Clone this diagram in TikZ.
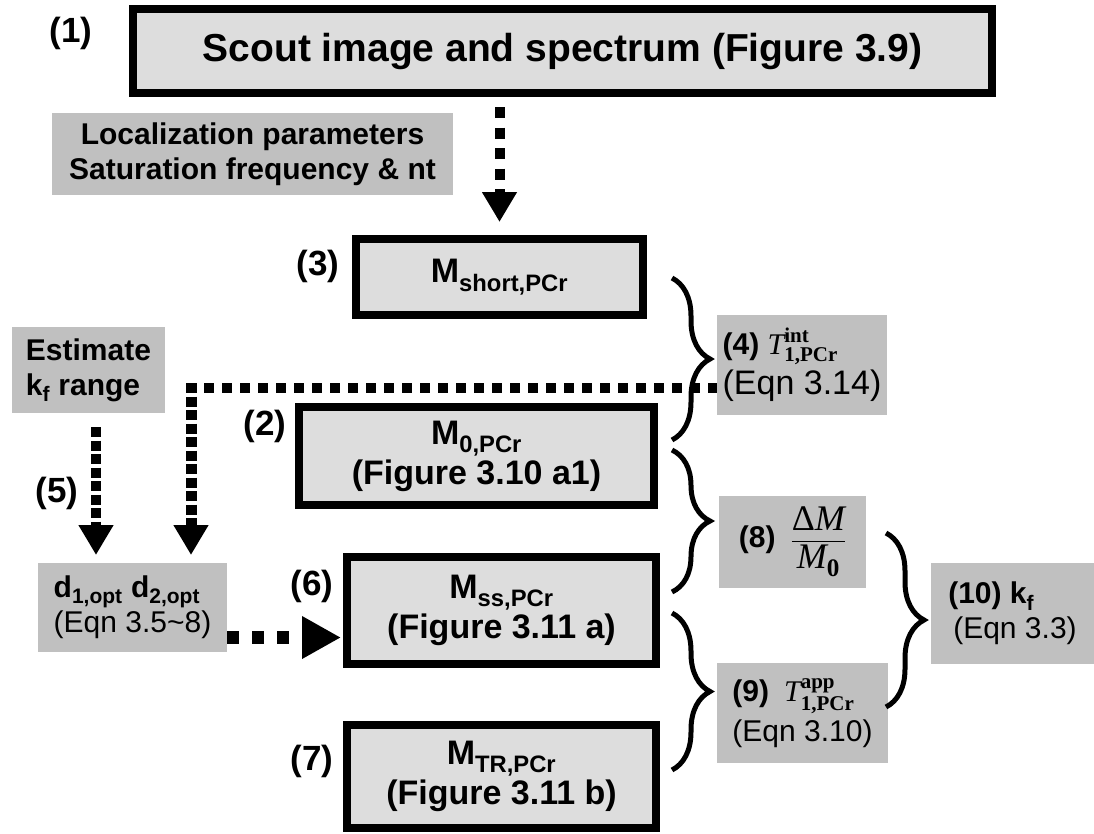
\documentclass[tikz,border=0pt]{standalone}
\usepackage{amsmath}
\usepackage{fontspec}
\setmainfont{Liberation Sans}
\newfontfamily\tms{Liberation Serif}
\usetikzlibrary{arrows.meta,decorations.pathreplacing}
\definecolor{BoxFill}{HTML}{DDDDDD}
\definecolor{TagFill}{HTML}{C0C0C0}
\newcommand{\lowtxt}[1]{$_{\text{#1}}$}
\newcommand{\tvar}[2]{$\text{\tms\mdseries\itshape T}^{\text{\tms\bfseries #1}}_{\text{\tms\bfseries #2}}$}

\begin{document}
\begin{tikzpicture}[x=1pt,y=-1pt,
  mbox/.style={draw,line width=8pt,fill=BoxFill,inner sep=0pt,outer sep=0pt,align=center,font=\fontsize{34}{40}\selectfont\bfseries},
  tag/.style={fill=TagFill,inner sep=0pt,outer sep=0pt,font=\fontsize{30}{35}\selectfont\bfseries},
  num/.style={inner sep=0pt,font=\fontsize{35}{37}\selectfont\bfseries},
  dotarr/.style={line width=10pt,dash pattern=on 10pt off 3.5pt,-{Triangle[length=30pt,width=33pt]}},
  brc/.style={decorate,decoration={brace,amplitude=38pt},line width=5pt}]
\useasboundingbox (0,0) rectangle (1094,833);
% boxes with a frame
\node[mbox,minimum width=859pt,minimum height=84pt,font=\fontsize{39}{44}\selectfont\bfseries] (scout) at (562.5,51) {Scout image and spectrum (Figure 3.9)};
\node[mbox,minimum width=287pt,minimum height=76pt] (short) at (499.5,277) {M\lowtxt{short,PCr}};
\node[mbox,minimum width=355pt,minimum height=98pt] (mzero) at (476.5,456) {M\lowtxt{0,PCr}\\(Figure 3.10 a1)};
\node[mbox,minimum width=309pt,minimum height=107pt] (mss) at (501.5,610.5) {M\lowtxt{ss,PCr}\\(Figure 3.11 a)};
\node[mbox,minimum width=309pt,minimum height=103pt] (mtr) at (501.5,776.5) {M\lowtxt{TR,PCr}\\(Figure 3.11 b)};
% grey boxes
\node[tag,minimum width=401pt,minimum height=82pt,align=center] (loc) at (252.5,154) {Localization parameters\\Saturation frequency \& nt};
\node[tag,minimum width=153pt,minimum height=86pt,align=left] (est) at (88.5,370) {Estimate\\k\lowtxt{f} range};
\node[tag,minimum width=189pt,minimum height=89pt,align=left] (dopt) at (132.5,607.5) {d\lowtxt{1,opt} d\lowtxt{2,opt}\\\textmd{(Eqn 3.5\textasciitilde 8)}};
\node[tag,minimum width=170pt,minimum height=100pt,align=left] (tint) at (802,365) {(4) \tvar{int}{1,PCr}\\[5pt]\textmd{\fontsize{34}{36}\selectfont(Eqn 3.14)}};
\node[tag,minimum width=147pt,minimum height=92pt] (ratio) at (792.5,542) {(8)\enspace{\fontsize{36}{38}\selectfont$\dfrac{\text{\tms\mdseries Δ\itshape M}}{\text{\tms\mdseries\itshape M}_{\text{\tms\bfseries 0}}}$}};
\node[tag,minimum width=171pt,minimum height=100pt,align=left] (tapp) at (802.5,713) {(9)\enspace\tvar{app}{1,PCr}\\[5pt]\textmd{(Eqn 3.10)}};
\node[tag,minimum width=163pt,minimum height=101pt,align=left] (kf) at (1012.5,613.5) {(10) k\lowtxt{f}\\\textmd{\,(Eqn 3.3)}};
% step numbers
\node[num] (n1) at (71,33) {(1)};
\node[num] (n3) at (318,266) {(3)};
\node[num] (n2) at (265,426) {(2)};
\node[num] (n5) at (57,493) {(5)};
\node[num] (n6) at (312,586) {(6)};
\node[num] (n7) at (312,761) {(7)};
% arrows
\draw[dotarr,dash pattern=on 11pt off 9.5pt,shorten <=14pt,shorten >=17pt] (scout.south -| short.north) -- (short.north);
\draw[dotarr,shorten <=14pt,shorten >=8pt] ([xshift=7.5pt]est.south) -- ([xshift=7.5pt]est.south |- dopt.north);
\coordinate (bend) at (191,388);
\draw[line width=10pt,dash pattern=on 10pt off 8pt] ([xshift=-5pt]bend) -- ([yshift=-23pt]tint.west);
\draw[dotarr,line width=11pt,shorten >=8pt] ([yshift=5pt]bend) -- (bend |- dopt.north);
\draw[dotarr,line width=13pt,dash pattern=on 12pt off 13pt,shorten >=6pt,-{Triangle[length=39pt,width=40pt]}] ([yshift=-30pt]dopt.east) -- ([yshift=-30pt]dopt.east -| mss.west);
% braces
\draw[brc] (672,278) -- (672,440);
\draw[brc] (672,450) -- (672,592);
\draw[brc] (672,613) -- (672,770);
\draw[brc] (886,533) -- (886,707);
\end{tikzpicture}
\end{document}
